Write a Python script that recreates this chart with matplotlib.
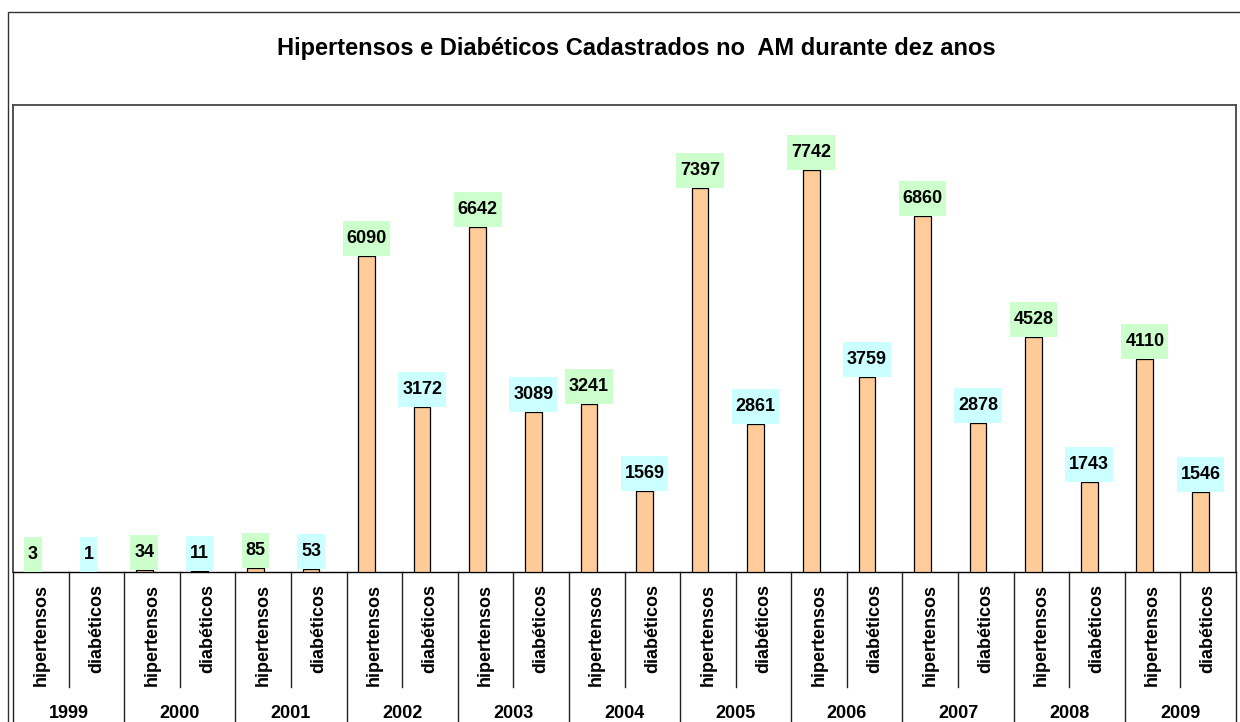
import matplotlib
matplotlib.use("Agg")
import matplotlib.pyplot as plt
from matplotlib.path import Path
from matplotlib.patches import Rectangle
import matplotlib.transforms as mtransforms
import numpy as np

plt.rcParams['font.family'] = ['Liberation Sans', 'DejaVu Sans']

years = ['1999', '2000', '2001', '2002', '2003', '2004', '2005', '2006', '2007', '2008', '2009']
series_names = ['hipertensos', 'diabéticos']
hipertensos = [3, 34, 85, 6090, 6642, 3241, 7397, 7742, 6860, 4528, 4110]
diabeticos = [1, 11, 53, 3172, 3089, 1569, 2861, 3759, 2878, 1743, 1546]
title = 'Hipertensos e Diabéticos Cadastrados no  AM durante dez anos'

W, H = 1240, 722
fig = plt.figure(figsize=(W / 100, H / 100), dpi=100)
fig.patch.set_facecolor('white')

# outer chart frame (clipped by figure edges like the original)
fig.add_artist(Rectangle((8 / W, -0.1), 1.2, (H - 12) / H + 0.1, transform=fig.transFigure,
                         fill=False, edgecolor='#333333', linewidth=1.0))

fig.text(636 / W, 1 - 49 / H, title, ha='center', va='center', fontsize=17, fontweight='bold')

left, right, top, base = 13, 1236, 105, 572
ax = fig.add_axes([left / W, (H - base) / H, (right - left) / W, (base - top) / H])
ax.set_xlim(-0.5, 21.5)
ax.set_ylim(0, 9000)
ax.set_xticks([])
ax.set_yticks([])
for s in ['top', 'left', 'right']:
    ax.spines[s].set_color('#444444')
    ax.spines[s].set_linewidth(1.3)
ax.spines['bottom'].set_color('black')
ax.spines['bottom'].set_linewidth(1.0)

values = []
labels = []
colors = []
for h, d in zip(hipertensos, diabeticos):
    values += [h, d]
    labels += series_names
    colors += ['#CCFFCC', '#CCFFFF']

x = np.arange(len(values))
bx = x - 0.14
ax.bar(bx, values, width=0.3, color='#FFCC99', edgecolor='black', linewidth=0.9, zorder=3)


def label_box(x0, y0, width, height, mutation_size):
    px = 0.21 * mutation_size
    cy = y0 + height / 2
    hh = 0.97 * mutation_size
    verts = [(x0 - px, cy - hh), (x0 + width + px, cy - hh), (x0 + width + px, cy + hh),
             (x0 - px, cy + hh), (x0 - px, cy - hh)]
    return Path(verts, closed=True)


for xi, v, c in zip(bx, values, colors):
    ax.annotate(str(v), xy=(xi, v), xytext=(0, 12.6), textcoords='offset points',
                ha='center', va='center', fontsize=13, fontweight='bold',
                bbox=dict(boxstyle=label_box, facecolor=c, edgecolor='none'),
                zorder=4, annotation_clip=False)

trans = mtransforms.blended_transform_factory(ax.transData, ax.transAxes)
axh = base - top
y_text_top = -(584 - base) / axh
y_short = -(687 - base) / axh
y_long = -(H - base + 5) / axh
y_year = -(714 - base) / axh

for xi, lab in zip(x, labels):
    ax.text(xi, y_text_top, lab, rotation=90, ha='center', va='top', fontsize=13,
            fontweight='bold', transform=trans, clip_on=False)

for k in range(len(values) + 1):
    xb = k - 0.5
    y1 = y_long if k % 2 == 0 else y_short
    ax.plot([xb, xb], [0, y1], color='#222222', linewidth=1.0, transform=trans, clip_on=False)

for i, yr in enumerate(years):
    ax.text(2 * i + 0.5, y_year, yr, ha='center', va='center', fontsize=13,
            fontweight='bold', transform=trans, clip_on=False)

fig.savefig('out.png', dpi=100)
